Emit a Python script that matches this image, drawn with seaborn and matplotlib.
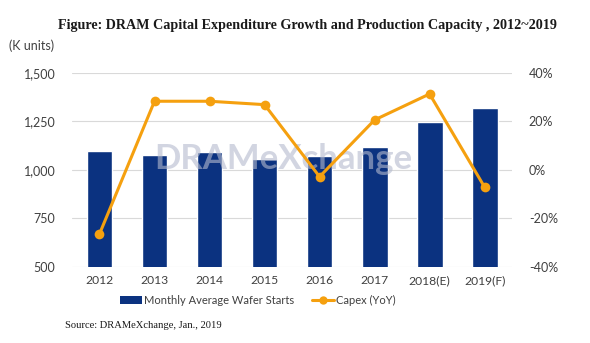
import matplotlib
matplotlib.use("Agg")
import matplotlib.pyplot as plt
import seaborn as sns
import pandas as pd
from matplotlib.ticker import FuncFormatter
from matplotlib.patches import Patch
from matplotlib.lines import Line2D

years = ["2012", "2013", "2014", "2015", "2016", "2017", "2018(E)", "2019(F)"]
wafer_starts = [1098, 1078, 1092, 1055, 1071, 1116, 1246, 1321]
capex_yoy = [-26.4, 28.3, 28.3, 26.9, -2.8, 20.6, 31.3, -7.1]

df = pd.DataFrame({"year": years, "wafer": wafer_starts, "capex": capex_yoy})

sns.set_theme(style="white")
plt.rcParams["font.family"] = ["Lato", "DejaVu Sans"]

navy = "#0B3280"
orange = "#F5A00F"
tick_col = "#404040"

fig = plt.figure(figsize=(5.9, 3.43), dpi=100)
ax = fig.add_axes([0.122, 0.2216, 0.746, 0.566])

sns.barplot(data=df, x="year", y="wafer", color=navy, width=0.47, ax=ax,
            saturation=1, zorder=2)
ax.set_ylim(500, 1500)
ax.set_yticks([500, 750, 1000, 1250, 1500])
ax.yaxis.set_major_formatter(FuncFormatter(lambda v, p: f"{int(v):,}"))
ax.grid(axis="y", color="#D9D9D9", linewidth=0.8, zorder=0)
ax.set_axisbelow(True)
for s in ax.spines.values():
    s.set_visible(False)
ax.set_xlabel("")
ax.set_ylabel("")
ax.tick_params(axis="both", length=0, labelsize=9, colors=tick_col, pad=12)
ax.tick_params(axis="x", labelsize=8.7, pad=6)
ax.set_xlim(-0.5, 7.5)

# watermark (above bars, below the line)
ax.text(0.48, 0.555, "DRAMeXchange", transform=ax.transAxes, fontsize=25,
        fontweight="bold", color="#B4BACE", alpha=0.6, ha="center", va="center",
        zorder=5)

ax2 = ax.twinx()
sns.lineplot(data=df, x="year", y="capex", color=orange, marker="o",
             markersize=7, linewidth=2.2, markeredgewidth=0, sort=False, ax=ax2)
ax2.set_ylim(-40, 40)
ax2.set_yticks([-40, -20, 0, 20, 40])
ax2.yaxis.set_major_formatter(FuncFormatter(lambda v, p: f"{int(v)}%"))
for s in ax2.spines.values():
    s.set_visible(False)
ax2.set_ylabel("")
ax2.tick_params(axis="y", length=0, labelsize=9, colors=tick_col, pad=12)
ax2.set_xlim(-0.5, 7.5)

fig.text(0.521, 0.927, "Figure: DRAM Capital Expenditure Growth and Production Capacity , 2012~2019",
         fontsize=10.2, fontweight="bold", family=["Liberation Serif"],
         ha="center", va="center", color="#1a1a1a")
fig.text(0.015, 0.868, "(K units)", fontsize=9, color=tick_col, ha="left", va="center")

handles = [Patch(facecolor=navy, edgecolor="none", label="Monthly Average Wafer Starts"),
           Line2D([0], [0], color=orange, marker="o", markersize=6, linewidth=2.2,
                  markeredgewidth=0, label="Capex (YoY)")]
fig.legend(handles=handles, loc="center", bbox_to_anchor=(0.437, 0.125), ncol=2,
           frameon=False, fontsize=8, handlelength=2.0, columnspacing=1.6,
           handletextpad=0.2, labelcolor=tick_col)

fig.text(0.11, 0.052, "Source: DRAMeXchange, Jan., 2019", fontsize=7.6,
         family=["Liberation Serif"], color="#1a1a1a", ha="left", va="center")

fig.savefig("out.png", dpi=100)
